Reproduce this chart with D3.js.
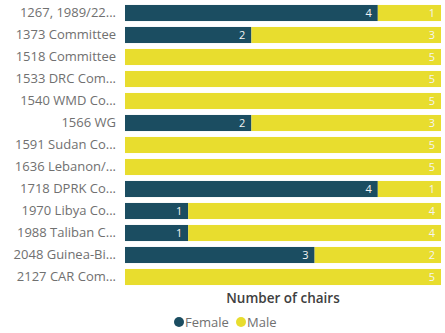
<!DOCTYPE html>
<html>
<head>
<meta charset="utf-8">
<script src="https://cdn.jsdelivr.net/npm/d3@7"></script>
<style>
  html, body { margin: 0; padding: 0; background: #ffffff; }
  svg { display: block; font-family: "Open Sans", "Noto Sans", sans-serif; }
</style>
</head>
<body>
<svg id="chart" width="445" height="333"></svg>
<script>
// Committees and chair counts by gender
const committees = [
  "1267, 1989/22...", "1373 Committee", "1518 Committee", "1533 DRC Com...",
  "1540 WMD Co...", "1566 WG", "1591 Sudan Co...", "1636 Lebanon/...",
  "1718 DPRK Co...", "1970 Libya Co...", "1988 Taliban C...", "2048 Guinea-Bi...",
  "2127 CAR Com..."
];
const female = [4, 2, 0, 0, 0, 2, 0, 0, 4, 1, 1, 3, 0];
const male   = [1, 3, 5, 5, 5, 3, 5, 5, 1, 4, 4, 2, 5];
const seriesNames = ["Female", "Male"];
const seriesColors = ["#1b4d61", "#e8dd2e"];

const rows = committees.map((c, i) => ({ committee: c, Female: female[i], Male: male[i] }));
const stacked = d3.stack().keys(seriesNames)(rows);

const svg = d3.select("#chart");
const W = 445;
const plot = { left: 125, right: 441, top: 2, bottom: 288 };

const x = d3.scaleLinear()
  .domain([0, d3.max(rows, d => d.Female + d.Male)])
  .range([plot.left, plot.right]);

const y = d3.scaleBand()
  .domain(committees)
  .range([plot.top, plot.bottom])
  .paddingInner(0.27)
  .paddingOuter(0.135);

const color = d3.scaleOrdinal().domain(seriesNames).range(seriesColors);

// category axis
const yAxis = svg.append("g")
  .attr("transform", `translate(${plot.left - 9},0)`)
  .call(d3.axisLeft(y).tickSize(0).tickPadding(0));
yAxis.select(".domain").remove();
yAxis.selectAll("text")
  .attr("fill", "#707070")
  .attr("font-size", "13px")
  .attr("font-family", "'Open Sans', sans-serif");

// stacked segments
const layers = svg.append("g").selectAll("g")
  .data(stacked)
  .join("g")
  .attr("fill", d => color(d.key));

layers.selectAll("rect")
  .data(d => d.filter(v => v[1] - v[0] > 0))
  .join("rect")
  .attr("x", d => x(d[0]))
  .attr("y", d => y(d.data.committee))
  .attr("width", d => x(d[1]) - x(d[0]))
  .attr("height", y.bandwidth());

// value labels at the inside end of each segment
layers.selectAll("text")
  .data(d => d.filter(v => v[1] - v[0] > 0))
  .join("text")
  .attr("x", d => x(d[1]) - 6)
  .attr("y", d => y(d.data.committee) + y.bandwidth() / 2)
  .attr("dy", "0.36em")
  .attr("text-anchor", "end")
  .attr("fill", "#f4f4f4")
  .attr("font-size", "11px")
  .text(d => d[1] - d[0]);

// axis title
svg.append("text")
  .attr("x", (plot.left + plot.right) / 2)
  .attr("y", 302.5)
  .attr("text-anchor", "middle")
  .attr("fill", "#404040")
  .attr("font-size", "13.5px")
  .attr("font-weight", 600)
  .text("Number of chairs");

// legend
const legend = svg.append("g").attr("transform", "translate(179,322)");
const legendOffsets = [0, 62];
seriesNames.forEach((name, i) => {
  const g = legend.append("g").attr("transform", `translate(${legendOffsets[i]},0)`);
  g.append("circle").attr("r", 5).attr("fill", color(name));
  g.append("text")
    .attr("x", 6)
    .attr("dy", "0.35em")
    .attr("fill", "#707070")
    .attr("font-size", "13px")
    .text(name);
});
</script>
</body>
</html>
